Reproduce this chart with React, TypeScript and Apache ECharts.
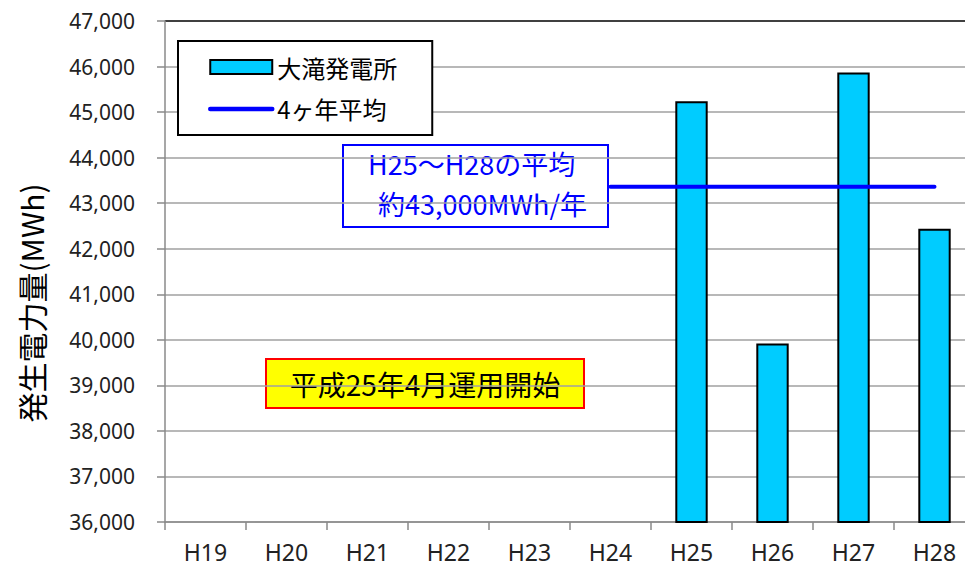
import React, { useEffect, useRef } from "react";
import * as echarts from "echarts";

const categories = ["H19", "H20", "H21", "H22", "H23", "H24", "H25", "H26", "H27", "H28"];
const generation: (number | null)[] = [null, null, null, null, null, null, 45240, 39920, 45870, 42440];
const fourYearAverage: (number | null)[] = [null, null, null, null, null, 43360, 43360, 43360, 43360, 43360];
const yMin = 36000;
const yMax = 47000;
const yInterval = 1000;

const barName = "大滝発電所";
const lineName = "4ヶ年平均";
const yAxisName = "発生電力量(MWh)";
const noteAverage1 = "H25～H28の平均";
const noteAverage2 = "約43,000MWh/年";
const noteStart = "平成25年4月運用開始";

const CJK = '"Noto Sans CJK JP", "Noto Sans", sans-serif';
const LATIN = '"Noto Sans", "Noto Sans CJK JP", sans-serif';

export default function App() {
  const ref = useRef<HTMLDivElement>(null);
  useEffect(() => {
    if (!ref.current) return;
    document.body.style.overflow = "hidden";
    const chart = echarts.init(ref.current, null, { renderer: "svg" });
    const gridColors: string[] = [];
    for (let i = 0; i < 11; i++) gridColors.push("#a0a0a0");
    gridColors.push("#000000");
    chart.setOption({
      animation: false,
      backgroundColor: "#ffffff",
      grid: { left: 165, top: 21, width: 810, bottom: 49, containLabel: false },
      legend: {
        orient: "vertical",
        left: 178,
        top: 41,
        padding: [14, 35, 14, 30],
        itemGap: 18,
        itemWidth: 62,
        itemHeight: 14,
        borderColor: "#000",
        borderWidth: 2,
        borderRadius: 0,
        backgroundColor: "#fff",
        textStyle: { fontSize: 24, fontFamily: CJK, color: "#000" },
        data: [
          { name: barName, icon: "rect" },
          { name: lineName, itemStyle: { opacity: 0 }, lineStyle: { width: 4.5, color: "#0000FF", cap: "round" } },
        ],
      },
      xAxis: {
        type: "category",
        data: categories,
        boundaryGap: true,
        axisLine: { show: true, lineStyle: { color: "#8a8a8a", width: 1.5 } },
        axisTick: { show: true, length: 8, lineStyle: { color: "#8a8a8a", width: 1.5 } },
        axisLabel: { fontSize: 23, fontFamily: LATIN, color: "#222", margin: 18 },
        splitLine: { show: false },
      },
      yAxis: {
        type: "value",
        min: yMin,
        max: yMax,
        interval: yInterval,
        axisLine: { show: true, lineStyle: { color: "#8a8a8a", width: 1.5 } },
        axisTick: { show: true, length: 8, lineStyle: { color: "#8a8a8a", width: 1.5 } },
        axisLabel: {
          fontSize: 21,
          fontFamily: LATIN,
          color: "#222",
          margin: 30,
          formatter: (v: number) => v.toLocaleString("en-US"),
        },
        splitLine: { show: true, lineStyle: { color: gridColors, width: 1.5 } },
      },
      series: [
        {
          name: barName,
          type: "bar",
          data: generation,
          barWidth: "40%",
          itemStyle: { color: "#00CCFF", borderColor: "#000", borderWidth: 2 },
          z: 2,
        },
        {
          name: lineName,
          type: "line",
          data: fourYearAverage,
          symbol: "none",
          showSymbol: false,
          lineStyle: { color: "#0000FF", width: 4, cap: "round" },
          itemStyle: { color: "#0000FF" },
          z: 3,
        },
      ],
      graphic: [
        {
          type: "text",
          x: 31,
          y: 303,
          rotation: Math.PI / 2,
          style: { text: yAxisName, fill: "#000", fontSize: 30, fontFamily: CJK, align: "center", verticalAlign: "middle" },
        },
        {
          type: "group",
          left: 342,
          top: 144,
          z: 10,
          children: [
            {
              type: "rect",
              shape: { x: 0, y: 0, width: 265, height: 82 },
              style: { fill: "#fff", stroke: "#0000FF", lineWidth: 2 },
            },
            {
              type: "text",
              x: 25,
              y: 18,
              style: { text: noteAverage1, fill: "#0000FF", fontSize: 27, fontFamily: CJK, verticalAlign: "middle", align: "left" },
            },
            {
              type: "text",
              x: 35,
              y: 58,
              style: { text: noteAverage2, fill: "#0000FF", fontSize: 27, fontFamily: CJK, verticalAlign: "middle", align: "left" },
            },
          ],
        },
        {
          type: "group",
          left: 265,
          top: 358,
          z: 10,
          children: [
            {
              type: "rect",
              shape: { x: 0, y: 0, width: 318, height: 49 },
              style: { fill: "#FFFF00", stroke: "#FF0000", lineWidth: 2 },
            },
            {
              type: "text",
              x: 159,
              y: 25,
              style: { text: noteStart, fill: "#000", fontSize: 28, fontFamily: CJK, verticalAlign: "middle", align: "center" },
            },
          ],
        },
      ],
    });
    return () => chart.dispose();
  }, []);
  return (
    <div
      ref={ref}
      style={{ position: "fixed", left: 0, top: 0, width: 980, height: 571, background: "#fff" }}
    />
  );
}
